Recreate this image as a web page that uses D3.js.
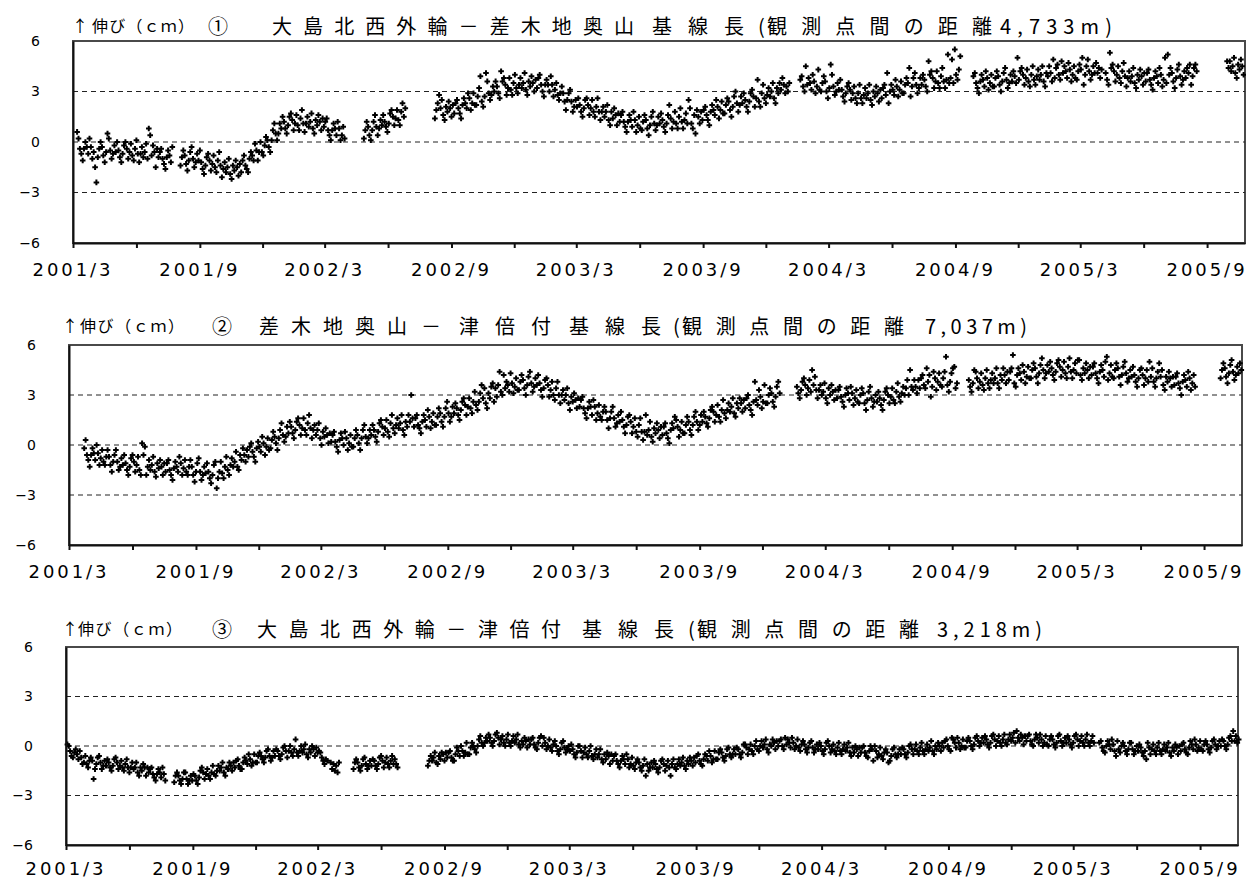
<!DOCTYPE html>
<html>
<head>
<meta charset="utf-8">
<script src="https://cdn.jsdelivr.net/npm/d3@7"></script>
<style>
  body { margin: 0; background: #fff; }
  svg { display: block; }
</style>
</head>
<body>
<svg id="chart" width="1246" height="880"></svg>
<script>
// Daily GPS baseline-length changes (cm) for three baselines, one reading every 2 days.
// Values are stored in millimetres; each segment starts on the date given and runs without gaps.
const STEP_DAYS = 2;

const xTickLabels = ["2001/3", "2001/9", "2002/3", "2002/9", "2003/3", "2003/9", "2004/3", "2004/9", "2005/3", "2005/9"];
const yTickValues = [6, 3, 0, -3, -6];
const gridValues = [3, 0, -3];

// ① 大島北西外輪－差木地奥山
const p1Starts = ["2001-03-07", "2001-08-04", "2002-04-27", "2002-08-08", "2004-01-20", "2004-09-27", "2005-04-07", "2005-09-30"];
const p1Values = [
  [6,2,-4,-7,-11,-4,0,-3,-7,2,-3,-10,-6,-15,-24,
   -9,-4,0,-3,-8,-12,-6,5,2,-5,-10,-7,-2,-6,0,
   -5,-9,-12,-7,-2,0,-4,-10,-6,-1,-8,-11,-4,1,-7,
   -12,-7,-3,-9,-6,-1,-10,8,4,-8,-2,-6,-15,-4,-9,
   -6,-4,-10,-13,-16,-9,-5,-8,-12,-3],
  [-14,-9,-5,-8,-13,-17,-11,-6,-3,-10,-15,-12,-7,-11,-5,
   -12,-16,-19,-14,-9,-7,-11,-17,-13,-8,-15,-18,-11,-6,-14,
   -21,-16,-12,-18,-15,-10,-19,-22,-14,-17,-11,-15,-20,-13,-18,
   -11,-8,-14,-16,-18,-10,-6,-8,-11,-1,-5,-11,-6,0,-6,
   -8,-2,3,1,-3,-6,1,7,11,5,1,5,11,8,15,
   12,8,5,10,15,17,13,7,11,16,10,7,14,19,11,
   6,11,15,9,12,17,8,5,13,10,16,12,7,14,9,
   12,14,7,4,1,7,11,8,4,12,8,1,4,9,2],
  [2,7,12,9,4,1,7,12,16,9,4,8,13,10,16,
   12,9,6,11,17,19,15,10,14,19,13,10,18,23,15,20],
  [14,19,23,28,20,25,16,13,21,18,24,20,15,22,17,
   23,25,20,17,14,22,26,23,20,29,26,19,23,29,22,
   22,27,32,39,24,21,27,41,36,29,25,28,33,30,36,
   33,29,26,42,36,38,34,28,32,38,31,28,35,40,32,
   29,34,38,32,35,41,31,28,36,33,39,35,30,37,32,
   38,40,34,30,27,34,37,34,30,39,34,27,31,35,28,
   25,29,33,29,24,19,25,29,31,24,18,21,25,21,26,
   22,18,15,20,25,26,22,16,20,25,18,15,21,26,18,
   13,18,21,15,18,22,13,10,18,14,20,16,10,17,12,
   16,18,12,9,6,12,16,13,9,18,13,6,10,15,8,
   7,12,16,13,8,4,10,15,18,11,7,10,15,11,17,
   13,9,6,11,16,22,14,8,12,18,11,8,15,20,12,
   8,13,17,11,25,20,11,8,16,5,19,15,11,18,13,
   19,21,16,13,10,18,22,19,16,25,21,14,19,24,17,
   17,22,26,24,19,15,21,27,30,23,18,22,27,23,29,
   25,21,18,24,29,31,27,21,26,37,24,21,29,34,26,
   23,28,32,27,30,35,26,23,32,29,35,31,38,34,29,
   33,30,35],
  [37,39,33,30,45,34,38,35,31,40,36,29,33,43,31,
   30,35,39,36,30,26,32,46,40,33,28,30,35,31,37,
   31,27,24,29,33,35,31,25,29,33,26,23,29,34,26,
   23,28,32,26,29,34,25,22,30,27,33,29,24,31,26,
   32,34,28,41,23,30,34,31,28,37,33,27,31,36,29,
   29,34,38,35,44,27,33,38,41,34,29,32,38,34,40,
   37,33,30,48,40,42,38,32,36,42,35,32,39,44,36,
   32,37,52,35,38,49,35,55,40,37,43,51],
  [39,41,35,32,29,36,40,37,33,42,38,31,35,40,33,
   33,38,42,39,34,30,36,41,44,37,32,35,40,36,42,
   39,35,50,37,42,44,40,34,38,43,36,33,40,45,37,
   34,39,43,37,40,45,36,33,41,39,45,41,36,49,38,
   44,46,40,37,48,41,45,42,38,47,43,36,40,45,38,
   37,42,46,43,50,34,40,45,49,42,37,40,45,41,47,
   41,44,38,43],
  [41,37,34,53,44,46,42,36,40,45,38,35,42,47,39,
   33,38,42,36,39,44,35,32,40,37,43,39,34,41,36,
   41,43,37,34,31,38,42,39,35,44,40,33,37,50,35,
   52,40,44,41,36,32,38,43,46,39,34,37,42,38,44,
   41,46,34,39,44,46,42],
  [48,44,48,42,45,50,41,38,46,43,49,45,40]
];

// ② 差木地奥山－津倍付
const p2Starts = ["2001-03-23", "2004-01-20", "2004-09-25", "2005-09-25"];
const p2Values = [
  [-2,3,-6,-9,-13,-6,-2,-5,-9,0,-5,-12,-8,-3,-10,
   -12,-7,-3,-7,-12,-16,-10,-6,-3,-10,-15,-13,-8,-12,-6,
   -11,-15,-18,-13,-8,-6,-10,-16,-12,-7,-15,-18,1,-6,-1,
   -18,-13,-9,-15,-12,-7,-16,-19,-11,-14,-9,-13,-18,-11,-16,
   -11,-9,-15,-18,-21,-14,-10,-13,-16,-7,-11,-18,-14,-9,-16,
   -18,-13,-9,-13,-18,-22,-16,-11,-8,-16,-21,-18,-13,-17,-11,
   -16,-20,-23,-18,-12,-10,-26,-20,-16,-10,-17,-20,-13,-7,-15,
   -18,-12,-8,-13,-10,-4,-13,-15,-6,-9,-2,-6,-10,-3,-7,
   -1,1,-4,-7,-10,-2,2,-1,-4,5,1,-6,-1,4,-3,
   -2,3,8,5,1,-3,4,9,13,6,2,5,11,7,14,
   11,7,4,9,14,16,12,6,10,16,9,6,13,18,10,
   4,9,12,6,9,13,4,0,8,5,10,6,1,7,2,
   6,8,2,-1,-4,3,7,4,0,8,4,-3,1,6,-1,
   -1,4,9,6,1,-3,4,9,12,5,1,4,9,6,12,
   9,5,2,8,13,15,11,6,10,15,8,5,13,18,10,
   7,12,16,10,13,18,9,6,14,11,18,14,30,16,11,
   16,18,12,10,7,14,18,15,11,21,17,10,14,19,12,
   12,17,22,19,14,11,17,22,26,19,14,17,23,19,25,
   22,18,15,21,26,28,24,18,23,28,22,19,26,32,24,
   21,26,31,36,28,34,25,22,31,28,35,37,26,34,29,
   36,44,32,30,42,34,38,36,32,43,37,31,35,40,33,
   33,38,42,39,34,30,36,41,44,37,32,35,40,36,42,
   37,33,29,34,39,40,36,29,33,38,30,27,34,38,30,
   25,30,33,27,30,34,25,21,29,26,31,27,22,28,23,
   27,29,22,19,16,22,26,23,18,27,23,15,19,24,17,
   15,20,23,20,15,10,16,20,23,16,11,13,18,14,20,
   15,11,7,12,17,18,14,7,11,16,8,5,12,16,8,
   3,8,18,6,9,14,5,2,10,7,13,9,4,11,6,
   11,13,7,4,1,9,13,10,17,15,11,5,9,14,7,
   7,12,17,14,9,6,12,17,20,14,9,12,18,14,20,
   17,13,11,16,21,23,20,14,18,24,17,14,21,27,19,
   16,21,25,20,23,28,19,17,25,22,28,25,20,27,22,
   28,30,24,21,18,26,38,27,24,33,29,22,26,36,25,
   25,30,34,31,26,23,29,35,38,31],
  [35,31,28,33,38,40,36,30,34,39,32,45,36,41,33,
   28,33,36,30,32,37,28,25,34,30,36,32,27,33,28,
   33,35,29,26,23,30,34,31,27,35,31,24,28,33,26,
   25,30,34,31,25,21,27,32,35,28,23,26,30,26,32,
   28,24,21,27,32,34,30,25,29,34,27,25,32,37,29,
   26,31,35,30,34,39,30,45,35,33,39,35,31,39,34,
   40,42,36,34,46,38,42,29,35,44,40,33,38,43,36,
   35,40,44,53,36,32,38,43,46,47,34,37],
  [39,35,32,37,45,44,40,34,38,43,36,33,40,45,37,
   34,39,43,37,40,46,37,34,42,39,46,42,37,44,39,
   44,46,54,37,35,42,46,43,39,48,44,37,41,47,40,
   40,45,49,46,41,37,43,48,52,45,40,43,48,44,50,
   46,42,39,44,49,51,47,41,45,50,43,40,47,52,44,
   40,45,49,43,51,51,42,39,46,43,49,45,40,47,42,
   47,49,43,40,37,44,48,45,41,50,53,39,43,48,41,
   40,45,49,46,41,36,42,47,50,43,38,40,45,41,47,
   42,38,35,40,45,46,42,36,40,45,38,50,41,46,38,
   35,40,44,49,41,45,36,33,41,38,44,40,35,41,36,
   41,43,37,34,30,38,42,39,35,44,40,33,37,42,35],
  [40,45,49,46,41,37,43,48,51,44,39,42,47,43,49,45]
];

// ③ 大島北西外輪－津倍付
const p3Starts = ["2001-03-03", "2001-08-05", "2002-03-20", "2002-04-22", "2002-08-08", "2005-04-08"];
const p3Values = [
  [1,0,-3,-6,-7,-4,-2,-5,-8,-3,-7,-11,-10,-6,-11,
   -13,-9,-7,-9,-20,-14,-11,-7,-6,-10,-14,-12,-9,-12,-8,
   -10,-13,-15,-12,-8,-7,-10,-14,-12,-9,-13,-15,-11,-8,-13,
   -16,-13,-10,-14,-13,-10,-16,-18,-13,-15,-11,-13,-18,-13,-16,
   -14,-13,-17,-19,-21,-17,-14,-16,-19,-13,-17,-21],
  [-22,-18,-16,-18,-21,-23,-20,-16,-16,-20,-23,-21,-18,-21,-17,
   -18,-21,-23,-19,-15,-13,-16,-20,-17,-14,-18,-20,-16,-12,-17,
   -18,-15,-12,-15,-13,-10,-16,-18,-13,-14,-10,-12,-15,-10,-13,
   -9,-8,-12,-14,-14,-10,-7,-9,-11,-5,-8,-12,-10,-5,-10,
   -10,-6,-4,-6,-8,-10,-7,-3,-2,-6,-9,-7,-3,-6,-2,
   -3,-6,-8,-5,-1,0,-3,-7,-3,0,-4,-6,-2,4,-4,
   -6,-3,0,-4,-2,1,-5,-7,-2,-4,0,-2,-6,-1,-4,
   -3,-4,-7,-9,-11,-8,-9],
  [-10,-14,-11,-15,-12,-16,-10],
  [-14,-10,-8,-10,-13,-15,-12,-8,-7,-11,-14,-12,-9,-12,-8,
   -9,-12,-14,-11,-7,-6,-9,-13,-10,-7,-11,-13,-9,-6,-11,-8,-11,-13],
  [-12,-9,-6,-9,-7,-4,-10,-11,-6,-8,-4,-5,-9,-4,-7,
   -4,-3,-7,-9,-9,-5,-1,-3,-6,0,-3,-6,-4,2,-5,
   -5,-1,2,0,-2,-4,0,4,6,2,0,2,5,3,7,
   5,2,0,3,7,8,5,1,4,6,2,0,4,7,2,
   0,3,6,2,4,7,1,-1,3,1,5,3,-1,4,1,
   4,5,1,-1,-2,2,5,6,0,5,2,-2,0,4,-1,
   -3,1,3,0,-3,-5,-2,2,3,-1,-4,-2,0,-3,1,
   -2,-5,-7,-4,0,0,-3,-7,-4,-1,-5,-7,-3,0,-6,
   -8,-5,-2,-7,-5,-2,-8,-10,-5,-8,-4,-6,-11,-5,-9,
   -6,-5,-9,-11,-13,-9,-6,-8,-11,-5,-8,-13,-11,-7,-12,
   -14,-10,-8,-10,-13,-15,-12,-8,-18,-11,-15,-13,-10,-13,-9,
   -11,-14,-16,-13,-9,-8,-11,-15,-12,-9,-13,-18,-11,-8,-13,
   -14,-11,-8,-12,-10,-7,-12,-14,-9,-11,-7,-9,-12,-7,-10,
   -6,-5,-9,-11,-12,-8,-5,-6,-9,-3,-6,-10,-8,-3,-8,
   -8,-4,-2,-4,-7,-9,-6,-2,-1,-5,-7,-5,-2,-5,-1,
   -2,-5,-7,-4,1,1,-1,-5,-2,1,-3,-5,0,3,-2,
   -3,0,3,-1,1,4,-2,-4,1,0,4,2,-2,3,0,
   3,4,0,-2,5,1,4,2,-1,5,2,-2,0,4,-1,
   -3,1,3,1,-2,-4,-1,2,3,-1,-4,-2,1,-2,2,
   0,-3,-5,-2,2,3,0,-4,-2,1,-3,-5,-1,2,-3,
   -5,-2,1,-3,-1,2,-4,-6,-1,-4,0,-2,-6,-1,-4,
   -1,0,-4,-6,-7,-3,0,-2,-9,0,-3,-7,-5,-1,-6,
   -8,-4,-2,-4,-10,-9,-6,-2,-1,-5,-7,-5,-2,-5,-1,
   -2,-5,-7,-4,0,1,-2,-5,-2,1,-3,-5,-1,2,-3,
   -5,-2,1,-3,-1,3,-3,-5,0,-2,2,0,-3,2,-1,
   3,4,0,-2,-3,5,4,2,-1,5,2,-2,0,4,-1,
   -1,3,5,3,0,-2,1,5,6,3,0,2,5,2,6,
   4,1,-1,2,6,7,4,0,3,6,2,0,4,7,2,
   1,4,7,3,5,8,2,9,5,3,7,5,1,6,3,
   6,7,3,1,0,4,7,5,2,7,4,0,2,6,1,
   0,4,6,4,1,-1,2,6,7,3,0,2,5,2,6,
   4,1,-1,2,6,7,4,0,3,6,2,0,4,7,2,
   0,3,6,2],
  [2,3,-1,-3,-4,0,3,1,-2,4,1,-3,-6,3,-2,
   -4,0,2,0,-3,-5,-2,2,2,-2,-5,-3,0,-3,1,
   -1,-4,-6,-3,-8,2,-1,-5,-2,1,-3,-5,-1,2,-3,
   -5,-2,1,-3,-1,2,-4,-6,-1,-3,1,-1,-5,0,-3,
   1,2,-2,-4,-5,-1,3,1,-2,4,1,-3,-1,3,-2,
   -3,1,3,1,-2,-4,-1,3,4,1,-2,0,3,0,4,
   3,0,-2,1,5,6,3,9,3,6,2,4]
];

// Panel layout and title pieces: [text, x start, x end (0 = natural width), large?]
const panels = [
  { starts: p1Starts, values: p1Values, left: 73, top: 41, width: 1172, height: 202, titleY: 34, labelY: 33,
    title: [["↑", 72, 0, false], ["伸び（ｃｍ）", 92, 194, false], ["①", 208, 0, true],
            ["大島北西外輪－差木地奥山", 272, 634, true], ["基線長", 652, 744, true],
            ["(", 758, 0, true], ["観測点間の距離", 767, 992, true], ["4,733m)", 1000, 1112, true]] },
  { starts: p2Starts, values: p2Values, left: 69, top: 345, width: 1173, height: 200, titleY: 334, labelY: 33,
    title: [["↑", 62, 0, false], ["伸び（ｃｍ）", 80, 184, false], ["②", 212, 0, true],
            ["差木地奥山", 259, 407, true], ["－", 421, 0, true], ["津倍付", 459, 551, true],
            ["基線長", 569, 661, true], ["(", 673, 0, true], ["観測点間の距離", 682, 904, true],
            ["7,037m)", 925, 1027, true]] },
  { starts: p3Starts, values: p3Values, left: 66, top: 647, width: 1172, height: 198, titleY: 637, labelY: 30,
    title: [["↑", 62, 0, false], ["伸び（ｃｍ）", 78, 182, false], ["③", 212, 0, true],
            ["大島北西外輪－津倍付", 257, 561, true], ["基線長", 582, 674, true],
            ["(", 688, 0, true], ["観測点間の距離", 697, 919, true], ["3,218m)", 937, 1042, true]] }
];

const parseDate = d3.utcParse("%Y-%m-%d");
const xDomain = [parseDate("2001-03-01"), parseDate("2005-10-26")];
const tickDates = d3.utcMonth.range(parseDate("2001-03-01"), parseDate("2005-09-02"), 3);

const svg = d3.select("#chart");
svg.append("rect").attr("width", 1246).attr("height", 880).attr("fill", "#fff");

const plusPath = "M-2.8,0H2.8M0,-2.8V2.8";

panels.forEach(p => {
  const x = d3.scaleUtc().domain(xDomain).range([p.left, p.left + p.width]);
  const y = d3.scaleLinear().domain([-6, 6]).range([p.top + p.height, p.top]);

  const g = svg.append("g");

  // plot frame (top and right edges)
  g.append("rect")
    .attr("x", p.left).attr("y", p.top)
    .attr("width", p.width).attr("height", p.height)
    .attr("fill", "none").attr("stroke", "#4a4a4a").attr("stroke-width", 2);

  // dashed reference lines
  g.append("g").selectAll("line").data(gridValues).join("line")
    .attr("x1", p.left).attr("x2", p.left + p.width)
    .attr("y1", d => y(d)).attr("y2", d => y(d))
    .attr("stroke", "#222").attr("stroke-width", 1)
    .attr("stroke-dasharray", "5,4");

  // observations
  const pts = [];
  p.starts.forEach((s, k) => {
    const t0 = parseDate(s);
    p.values[k].forEach((v, i) => {
      pts.push({ date: d3.utcDay.offset(t0, i * STEP_DAYS), value: v / 10 });
    });
  });
  g.append("g").selectAll("path").data(pts).join("path")
    .attr("transform", d => `translate(${x(d.date).toFixed(1)},${y(d.value).toFixed(1)})`)
    .attr("d", plusPath)
    .attr("stroke", "#000").attr("stroke-width", 2).attr("fill", "none");

  // x axis
  const xAxis = d3.axisBottom(x)
    .tickValues(tickDates)
    .tickSize(5).tickSizeOuter(0)
    .tickFormat((d, i) => i % 2 === 0 ? xTickLabels[i / 2] : "");
  const gx = g.append("g").attr("transform", `translate(0,${p.top + p.height})`).call(xAxis);
  gx.select(".domain").attr("stroke", "#111").attr("stroke-width", 2);
  gx.selectAll(".tick line").attr("stroke", "#111").attr("stroke-width", 2);
  gx.selectAll(".tick text")
    .attr("y", p.labelY).attr("dy", null).attr("x", -2)
    .attr("fill", "#000")
    .style("font-family", "'DejaVu Sans', sans-serif").style("font-size", "18px")
    .each(function() { if (this.textContent) d3.select(this).attr("textLength", 78).attr("lengthAdjust", "spacing"); });

  // y axis
  const yAxis = d3.axisLeft(y).tickValues(yTickValues).tickSize(0).tickSizeOuter(0).tickPadding(33);
  const gy = g.append("g").attr("transform", `translate(${p.left},0)`).call(yAxis);
  gy.select(".domain").attr("stroke", "#111").attr("stroke-width", 2);
  gy.selectAll(".tick text")
    .attr("fill", "#000")
    .style("font-family", "'DejaVu Sans', sans-serif").style("font-size", "14px");

  // title
  p.title.forEach(([txt, x0, x1, big]) => {
    const t = g.append("text")
      .attr("x", x0).attr("y", big ? p.titleY : p.titleY - 2)
      .attr("fill", "#000")
      .style("font-family", "'Noto Sans CJK JP', sans-serif")
      .style("font-size", big ? "20px" : "16px")
      .text(txt);
    if (x1 > 0) t.attr("textLength", x1 - x0).attr("lengthAdjust", "spacing");
  });
});
</script>
</body>
</html>
